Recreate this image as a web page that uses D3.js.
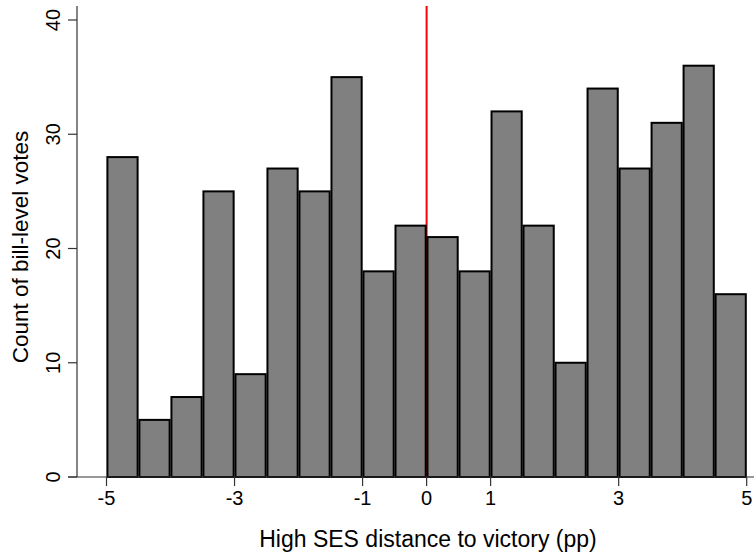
<!DOCTYPE html>
<html>
<head>
<meta charset="utf-8">
<script src="https://cdn.jsdelivr.net/npm/d3@7"></script>
<style>
  body { margin: 0; background: #fff; }
  svg { display: block; font-family: "Liberation Sans", Arial, sans-serif; }
</style>
</head>
<body>
<div id="chart"></div>
<script>
// bins of width 0.5 from -5 to 5
const binStarts = [-5, -4.5, -4, -3.5, -3, -2.5, -2, -1.5, -1, -0.5, 0, 0.5, 1, 1.5, 2, 2.5, 3, 3.5, 4, 4.5];
const counts = [28, 5, 7, 25, 9, 27, 25, 35, 18, 22, 21, 18, 32, 22, 10, 34, 27, 31, 36, 16];
const binWidth = 0.5;
const xTicks = [-5, -3, -1, 0, 1, 3, 5];
const yTicks = [0, 10, 20, 30, 40];
const cutoff = 0;

const width = 754, height = 559;

const svg = d3.select('#chart').append('svg')
    .attr('width', width)
    .attr('height', height);

const x = d3.scaleLinear().domain([-5, 5]).range([106.5, 746.7]);
const y = d3.scaleLinear().domain([0, 40]).range([477, 20]);

// red line at the cutoff, drawn under the bars
svg.append('line')
    .attr('x1', x(cutoff)).attr('x2', x(cutoff))
    .attr('y1', 6).attr('y2', y(0))
    .attr('stroke', '#ff0000')
    .attr('stroke-width', 2);

// bars
svg.append('g').selectAll('rect')
    .data(counts)
    .join('rect')
    .attr('x', (d, i) => x(binStarts[i]) + 0.9)
    .attr('width', (d, i) => x(binStarts[i] + binWidth) - x(binStarts[i]) - 1.8)
    .attr('y', d => y(d))
    .attr('height', d => y(0) - y(d))
    .attr('fill', '#808080')
    .attr('stroke', '#000')
    .attr('stroke-width', 2);

// y axis
const yAxis = svg.append('g').attr('transform', 'translate(77,0)');
yAxis.append('line')
    .attr('x1', 0).attr('x2', 0)
    .attr('y1', 6).attr('y2', y(0))
    .attr('stroke', '#333').attr('stroke-width', 1.2);
yAxis.selectAll('.tick')
    .data(yTicks)
    .join('line')
    .attr('x1', -9).attr('x2', 0)
    .attr('y1', d => y(d)).attr('y2', d => y(d))
    .attr('stroke', '#333').attr('stroke-width', 1.2);
yAxis.selectAll('text')
    .data(yTicks)
    .join('text')
    .attr('transform', d => `translate(-17,${y(d)}) rotate(-90)`)
    .attr('text-anchor', 'middle')
    .attr('font-size', 20)
    .text(d => d);

// x axis
const xAxis = svg.append('g').attr('transform', `translate(0,${y(0)})`);
xAxis.append('line')
    .attr('x1', 68).attr('x2', width)
    .attr('stroke', '#333').attr('stroke-width', 1.2);
xAxis.selectAll('.tick')
    .data(xTicks)
    .join('line')
    .attr('x1', d => x(d)).attr('x2', d => x(d))
    .attr('y1', 0).attr('y2', 9)
    .attr('stroke', '#333').attr('stroke-width', 1.2);
xAxis.selectAll('text')
    .data(xTicks)
    .join('text')
    .attr('x', d => x(d))
    .attr('y', 28)
    .attr('text-anchor', 'middle')
    .attr('font-size', 20)
    .text(d => d < 0 ? '-' + Math.abs(d) : d);

// titles
svg.append('text')
    .attr('x', 428).attr('y', 547)
    .attr('text-anchor', 'middle')
    .attr('font-size', 23)
    .text('High SES distance to victory (pp)');

svg.append('text')
    .attr('transform', 'translate(28,247) rotate(-90)')
    .attr('text-anchor', 'middle')
    .attr('font-size', 22.5)
    .text('Count of bill-level votes');
</script>
</body>
</html>
